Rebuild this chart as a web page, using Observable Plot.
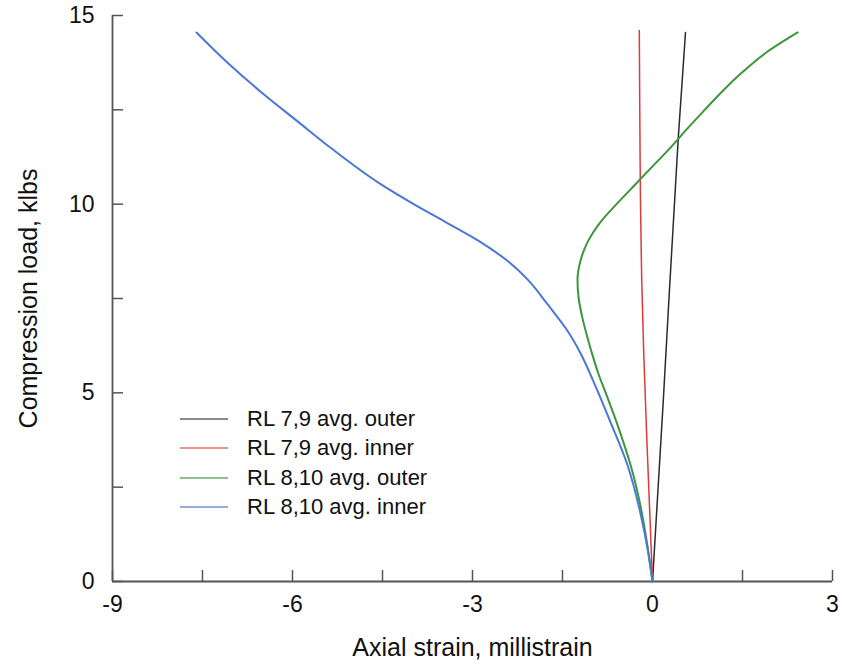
<!DOCTYPE html>
<html>
<head>
<meta charset="utf-8">
<script src="https://cdn.jsdelivr.net/npm/d3@7"></script>
<script src="https://cdn.jsdelivr.net/npm/@observablehq/plot@0.6"></script>
<style>
  html, body { margin: 0; padding: 0; background: #fff; }
  #wrap { position: relative; width: 842px; height: 666px; font-family: "Liberation Sans", Arial, Helvetica, sans-serif; }
  #legend { position: absolute; left: 180px; top: 404px; font-size: 22px; color: #111; }
  #legend .row { display: flex; align-items: center; height: 29.5px; }
  #legend .sw { width: 48px; height: 0; border-top: 2px solid; margin-right: 19px; }
</style>
</head>
<body>
<div id="wrap"></div>
<script>
// ---- data ----
const seriesNames = ["RL 7,9 avg. outer", "RL 7,9 avg. inner", "RL 8,10 avg. outer", "RL 8,10 avg. inner"];
const seriesColors = ["#2b2b2b", "#e0393b", "#3c963c", "#4a78d4"];
const legendColors = ["#8a8a8a", "#f08f8f", "#8fbf8f", "#97acdf"];

const blackLoad = [0, 4.8, 11.77, 14.55];
const blackStrain = [0, 0.18, 0.43, 0.55];

const redLoad = [0, 2, 4, 6, 8, 10, 12, 14.6];
const redStrain = [0, -0.05, -0.1, -0.145, -0.18, -0.2, -0.21, -0.22];

const greenLoad = [0, 1.0, 2.0, 3.0, 4.0, 5.0, 5.5, 6.0, 6.5, 7.0, 7.5, 8.0, 8.5, 8.75, 9.0, 9.25, 9.5, 10.0, 10.5, 11.0, 11.5, 12.0, 12.5, 13.0, 13.5, 14.0, 14.55];
const greenStrain = [0, -0.09, -0.2, -0.35, -0.55, -0.78, -0.9, -1.0, -1.09, -1.17, -1.23, -1.25, -1.2, -1.15, -1.08, -0.99, -0.88, -0.6, -0.3, 0.0, 0.3, 0.58, 0.87, 1.17, 1.5, 1.88, 2.42];

const blueLoad = [0, 0.75, 1.8, 3.1, 4.3, 5.25, 6.05, 6.65, 7.35, 8.0, 8.5, 9.0, 9.5, 10.0, 10.55, 11.5, 12.2, 12.9, 13.7, 14.55];
const blueStrain = [0, -0.07, -0.2, -0.42, -0.72, -0.97, -1.2, -1.42, -1.75, -2.08, -2.42, -2.87, -3.42, -3.98, -4.55, -5.37, -5.92, -6.47, -7.05, -7.6];

const xTickLabels = [-9, -6, -3, 0, 3];
const xMinorTicks = [-7.5, -4.5, -1.5, 1.5];
const yTickLabels = [0, 5, 10, 15];
const yMinorTicks = [2.5, 7.5, 12.5];
const xTitle = "Axial strain, millistrain";
const yTitle = "Compression load, klbs";

// ---- build table ----
const seriesLoads = [blackLoad, redLoad, greenLoad, blueLoad];
const seriesStrains = [blackStrain, redStrain, greenStrain, blueStrain];
const seriesWidths = [1.5, 1.5, 2, 2];
const rows = [];
seriesNames.forEach((name, i) => {
  seriesLoads[i].forEach((y, j) => rows.push({series: name, strain: seriesStrains[i][j], load: y}));
});

const W = 842, H = 666, mL = 112, mR = 10, mT = 15, mB = 85;
const tickPx = 11;
const yPerPx = 15 / (H - mT - mB);
const xPerPx = 12 / (W - mL - mR);
const axisColor = "#555";
const allTicksX = [...xTickLabels, ...xMinorTicks];
const allTicksY = [...yTickLabels, ...yMinorTicks];
const fmt = d => String(d);

const chart = Plot.plot({
  width: W, height: H,
  marginLeft: mL, marginRight: mR, marginTop: mT, marginBottom: mB,
  style: {fontFamily: '"Liberation Sans", Arial, Helvetica, sans-serif', fontSize: "23px", color: "#111", background: "#fff"},
  x: {domain: [-9, 3]},
  y: {domain: [0, 15]},
  color: {domain: seriesNames, range: seriesColors},
  marks: [
    Plot.axisX(xTickLabels, {tickSize: 0, tickPadding: 14, fontSize: 23, tickFormat: fmt, label: null}),
    Plot.axisY(yTickLabels, {tickSize: 0, tickPadding: 18, fontSize: 23, tickFormat: fmt, label: null}),
    Plot.text([xTitle], {text: d => d, frameAnchor: "bottom", textAnchor: "middle", dy: 74, fontSize: 25, fill: "#111"}),
    Plot.text([yTitle], {text: d => d, frameAnchor: "left", textAnchor: "middle", rotate: -90, dx: -84, fontSize: 25, fill: "#111"}),
    Plot.ruleX(allTicksX, {x: d => d, y1: 0, y2: tickPx * yPerPx, stroke: axisColor, strokeWidth: 1.5}),
    Plot.ruleY(allTicksY, {y: d => d, x1: -9, x2: -9 + tickPx * xPerPx, stroke: axisColor, strokeWidth: 1.5}),
    Plot.ruleY([0], {stroke: axisColor, strokeWidth: 1.8}),
    Plot.ruleX([-9], {stroke: axisColor, strokeWidth: 1.8}),
    ...seriesNames.map((name, i) =>
      Plot.line(rows.filter(r => r.series === name), {x: "strain", y: "load", stroke: "series", strokeWidth: seriesWidths[i], curve: "monotone-y"}))
  ]
});

const wrap = document.getElementById("wrap");
wrap.appendChild(chart);

const legend = document.createElement("div");
legend.id = "legend";
seriesNames.forEach((n, i) => {
  const r = document.createElement("div");
  r.className = "row";
  const sw = document.createElement("span");
  sw.className = "sw";
  sw.style.borderTopColor = legendColors[i];
  const t = document.createElement("span");
  t.textContent = n;
  r.appendChild(sw); r.appendChild(t);
  legend.appendChild(r);
});
wrap.appendChild(legend);
</script>
</body>
</html>
